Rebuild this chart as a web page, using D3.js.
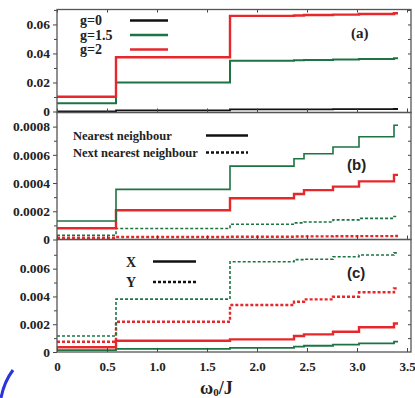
<!DOCTYPE html>
<html>
<head>
<meta charset="utf-8">
<script src="https://cdn.jsdelivr.net/npm/d3@7"></script>
<style>
  body { margin: 0; background: #fff; }
  svg { display: block; }
  text { font-family: "Liberation Serif", "DejaVu Serif", serif; font-weight: bold; fill: #222; }
</style>
</head>
<body>
<svg id="chart" width="415" height="398"></svg>
<script>
// omega_0 / J positions where the curves step up (last entry = end of data)
const omegaSteps = [0, 0.59, 1.73, 2.37, 2.47, 2.76, 3.02, 3.37, 3.41];
const xTicks = [0, 0.5, 1.0, 1.5, 2.0, 2.5, 3.0, 3.5];

// panel (a)
const aG0  = [0, 0.0007, 0.0015, 0.0015, 0.0015, 0.0016, 0.0016, 0.0017, 0.0017];
const aG15 = [0.0057, 0.0199, 0.0350, 0.0353, 0.0355, 0.0358, 0.0362, 0.0367, 0.0367];
const aG2  = [0.0102, 0.0374, 0.0659, 0.0662, 0.0665, 0.0668, 0.0672, 0.0677, 0.0677];
const aTicks = [0, 0.02, 0.04, 0.06];
const aMinor = [0.01, 0.03, 0.05, 0.07];

// panel (b) nearest (solid) / next nearest (dashed)
const bNearG = [0.000131, 0.000355, 0.00052, 0.000572, 0.000608, 0.000656, 0.000728, 0.00081, 0.00081];
const bNearR = [0.00008, 0.000207, 0.000292, 0.000322, 0.00035, 0.000375, 0.000412, 0.000458, 0.000458];
const bNextG = [0.00003, 0.000078, 0.000108, 0.000118, 0.000124, 0.000139, 0.00015, 0.000163, 0.000163];
const bNextR = [0.000012, 0.000018, 0.00002, 0.000021, 0.000022, 0.000023, 0.000024, 0.000025, 0.000025];
const bTicks = [0, 0.0002, 0.0004, 0.0006, 0.0008];
const bMinor = [0.0001, 0.0003, 0.0005, 0.0007, 0.0009];

// panel (c) X (solid) / Y (dashed)
const cXG = [0.00014, 0.00022, 0.00029, 0.00038, 0.00045, 0.00053, 0.00062, 0.00074, 0.00074];
const cXR = [0.00034, 0.00081, 0.00091, 0.00115, 0.00127, 0.00146, 0.00178, 0.00205, 0.00205];
const cYG = [0.00115, 0.00381, 0.0065, 0.00665, 0.00668, 0.00686, 0.00698, 0.00714, 0.00714];
const cYR = [0.00074, 0.00218, 0.00338, 0.00362, 0.00379, 0.00398, 0.0043, 0.00458, 0.00458];
const cTicks = [0, 0.002, 0.004, 0.006];
const cMinor = [0.001, 0.003, 0.005, 0.007];

const RED = "#e6282c", GREEN = "#1c7443", BLACK = "#111";

const svg = d3.select("#chart");
const left = 57, right = 411;

const x = d3.scaleLinear().domain([0, 3.54]).range([left, right]);

const panels = [
  { top: 9.5, bottom: 112.5, domain: [-0.0007, 0.0703], ticks: aTicks, minor: aMinor,
    fmt: d => d === 0 ? "0" : d.toFixed(2),
    series: [
      { v: aG0, color: BLACK, w: 1.8 },
      { v: aG15, color: GREEN, w: 2 },
      { v: aG2, color: RED, w: 2.4 }
    ] },
  { top: 112.5, bottom: 239.5, domain: [0, 0.0009], ticks: bTicks, minor: bMinor,
    fmt: d => d === 0 ? "0" : d.toFixed(4),
    series: [
      { v: bNextR, color: RED, w: 2.4, dash: "3,2" },
      { v: bNextG, color: GREEN, w: 1.6, dash: "3,2" },
      { v: bNearR, color: RED, w: 2.4 },
      { v: bNearG, color: GREEN, w: 1.6 }
    ] },
  { top: 239.5, bottom: 352, domain: [0, 0.0081], ticks: cTicks, minor: cMinor,
    fmt: d => d === 0 ? "0" : d.toFixed(3),
    series: [
      { v: cXG, color: GREEN, w: 1.8 },
      { v: cXR, color: RED, w: 2.4 },
      { v: cYR, color: RED, w: 2.4, dash: "3,2" },
      { v: cYG, color: GREEN, w: 1.6, dash: "3,2" }
    ] }
];

panels.forEach((p, i) => {
  const y = d3.scaleLinear().domain(p.domain).range([p.bottom, p.top]);
  const g = svg.append("g");

  const line = d3.line()
    .x((d, j) => x(omegaSteps[j]))
    .y(d => y(d))
    .curve(d3.curveStepAfter);

  g.selectAll("path.series")
    .data(p.series)
    .enter()
    .append("path")
    .attr("class", "series")
    .attr("d", s => line(s.v))
    .attr("fill", "none")
    .attr("stroke", s => s.color)
    .attr("stroke-width", s => s.w)
    .attr("stroke-dasharray", s => s.dash || null);

  // left axis, outward ticks
  const yl = g.append("g").attr("transform", `translate(${left},0)`)
    .call(d3.axisLeft(y).tickValues(p.ticks).tickFormat(p.fmt).tickSize(4).tickPadding(3));
  yl.selectAll(".tick text").style("font-size", "13.5px").attr("fill", "#222");
  g.append("g").attr("transform", `translate(${left},0)`)
    .call(d3.axisLeft(y).tickValues(p.minor.filter(v => v < p.domain[1])).tickFormat("").tickSize(3));

  // right axis, inward ticks
  g.append("g").attr("transform", `translate(${right},0)`)
    .call(d3.axisRight(y).tickValues(p.ticks.concat(p.minor).filter(v => v > 0 && v < p.domain[1])).tickFormat("").tickSize(-3));

  // bottom ticks inward, labels only on the last panel
  const xb = g.append("g").attr("transform", `translate(0,${p.bottom})`)
    .call(d3.axisBottom(x).tickValues(xTicks).tickSize(-4).tickPadding(10)
      .tickFormat(i === 2 ? (d => d === 0 ? "0" : d3.format(".1f")(d)) : () => ""));
  xb.selectAll(".tick text").style("font-size", "13px").attr("fill", "#222");
  if (i === 0) {
    g.append("g").attr("transform", `translate(0,${p.top})`)
      .call(d3.axisTop(x).tickValues(xTicks).tickSize(-3).tickFormat(""));
  }

  g.selectAll(".domain").remove();
  g.selectAll(".tick line").attr("stroke", "#444");
  g.append("rect")
    .attr("x", left).attr("y", p.top)
    .attr("width", right - left).attr("height", p.bottom - p.top)
    .attr("fill", "none").attr("stroke", "#555").attr("stroke-width", 1.3);
});

// legends
const legA = [["g=0", BLACK], ["g=1.5", GREEN], ["g=2", RED]];
legA.forEach(([t, c], k) => {
  const yy = 20.5 + k * 14.5;
  svg.append("text").attr("x", 80).attr("y", yy + 4.5).style("font-size", "14px").text(t);
  svg.append("line").attr("x1", 130).attr("x2", 168).attr("y1", yy).attr("y2", yy)
    .attr("stroke", c).attr("stroke-width", 2.5);
});

const legB = [["Nearest neighbour", null], ["Next nearest neighbour", "3,2"]];
legB.forEach(([t, dash], k) => {
  const yy = 135.5 + k * 17;
  svg.append("text").attr("x", 73).attr("y", yy + 4).style("font-size", "12.5px").text(t);
  svg.append("line").attr("x1", 206).attr("x2", 248).attr("y1", yy).attr("y2", yy)
    .attr("stroke", BLACK).attr("stroke-width", 2.4).attr("stroke-dasharray", dash);
});

const legC = [["X", null], ["Y", "3,2"]];
legC.forEach(([t, dash], k) => {
  const yy = 261.5 + k * 20.5;
  svg.append("text").attr("x", 126).attr("y", yy + 5).style("font-size", "14px").text(t);
  svg.append("line").attr("x1", 153).attr("x2", 196).attr("y1", yy).attr("y2", yy)
    .attr("stroke", BLACK).attr("stroke-width", 2.4).attr("stroke-dasharray", dash);
});

// panel labels
svg.append("text").attr("x", 351).attr("y", 38).style("font-size", "15px").text("(a)");
svg.append("text").attr("x", 347).attr("y", 170).style("font-size", "15px")
  .style("font-family", "'Liberation Sans', Arial, sans-serif").text("(b)");
svg.append("text").attr("x", 347).attr("y", 278).style("font-size", "15px")
  .style("font-family", "'Liberation Sans', Arial, sans-serif").text("(c)");

// x axis title
const xt = svg.append("text").attr("x", 200).attr("y", 394).style("font-size", "18px");
xt.append("tspan").text("ω");
xt.append("tspan").attr("dy", 1.5).style("font-size", "11px").text("0");
xt.append("tspan").attr("dy", -1.5).text("/J");

// blue stroke in the bottom-left corner of the original image
svg.append("path").attr("d", "M13,370 Q4,382 1,398")
  .attr("fill", "none").attr("stroke", "#2a35d8").attr("stroke-width", 3);
</script>
</body>
</html>
